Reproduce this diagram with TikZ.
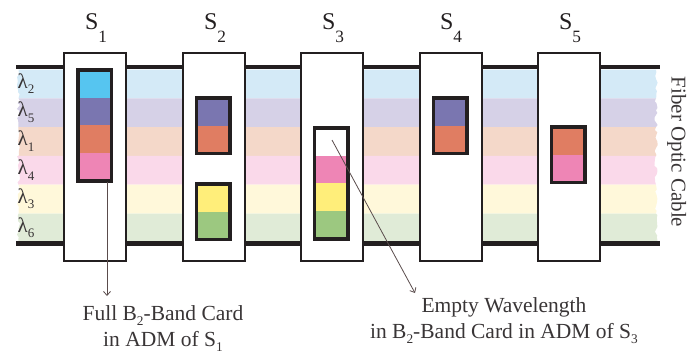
\documentclass[tikz,border=0pt]{standalone}
\usepackage{fontspec}
\usepackage{graphicx}
\setmainfont{Liberation Serif}
\usetikzlibrary{arrows.meta,decorations.pathmorphing}
\definecolor{bandA}{HTML}{D4EAF7}
\definecolor{bandB}{HTML}{D6D1E7}
\definecolor{bandC}{HTML}{F4D8C9}
\definecolor{bandD}{HTML}{FAD9EA}
\definecolor{bandE}{HTML}{FFF8DA}
\definecolor{bandF}{HTML}{E0EBD7}
\definecolor{cCyan}{HTML}{56C5F0}
\definecolor{cPurple}{HTML}{7A76B0}
\definecolor{cOrange}{HTML}{E07D62}
\definecolor{cPink}{HTML}{EE85B5}
\definecolor{cYellow}{HTML}{FFEE7A}
\definecolor{cGreen}{HTML}{9CC880}
\definecolor{ink}{HTML}{231F20}
\definecolor{arrowc}{HTML}{5A4C4C}
\newcommand{\lsub}[1]{\raisebox{-0.6ex}{\scalebox{0.62}{#1}}}
\newcommand{\ssub}[1]{\raisebox{-0.55em}{\scalebox{0.72}{#1}}}
\newcommand{\admcard}[4]{% center x, outer top y, rows, colours
  \foreach \col [count=\i from 0] in {#4} {
    \fill[\col] ({#1-16.75},{#2+1.75+\i*27.75}) rectangle ++(33.5,27.75);
  }
  \draw[cardline] ({#1-16.75},{#2+1.75}) rectangle ++(33.5,{#3*27.75});
}
\tikzset{
  stationbox/.style={draw=ink, fill=white, line width=2pt, minimum width=62pt, minimum height=208pt, inner sep=0pt},
  cardline/.style={draw=ink, line width=3.5pt},
  fiberline/.style={draw=ink, line width=4.5pt},
  slabel/.style={font=\fontsize{24}{26}\selectfont, anchor=base, inner sep=0pt, text=ink},
  lamlabel/.style={font=\fontsize{21}{22}\selectfont, anchor=base, inner sep=0pt, text=ink!90},
  caption/.style={font=\fontsize{21.5}{24}\selectfont, anchor=base, inner sep=0pt, text=ink!90},
  pointer/.style={draw=arrowc, line width=0.8pt, -{Straight Barb[length=4pt,width=7pt]}},
  torn/.style={decoration={random steps, segment length=3pt, amplitude=1.6pt}},
}
\begin{document}
\begin{tikzpicture}[x=1pt,y=-1pt]
\useasboundingbox (0,0) rectangle (688,354);
\pgfmathsetseed{7}
% wavelength bands
\foreach \col [count=\i from 0] in {bandA,bandB,bandC,bandD,bandE,bandF} {
  \pgfmathsetmacro{\yt}{69.5+\i*28.8}
  \pgfmathsetmacro{\yb}{69.5+(\i+1)*28.8}
  \fill[\col] (18.5,\yt) -- (656,\yt) decorate[torn]{-- (656,\yb)} -- (18.5,\yb) decorate[torn]{-- (18.5,\yt)} -- cycle;
}
% fiber edges
\draw[fiberline] (16,67) -- (660,67);
\draw[fiberline] (16,243.5) -- (660,243.5);
% lambda labels
\foreach \l [count=\i from 0] in {2,5,1,4,3,6} {
  \node[lamlabel] (lam\l) at (26,{88+\i*28.8}) {λ\lsub{\l}};
}
% stations
\node[stationbox] (st1) at (95,157) {};
\node[stationbox] (st2) at (214,157) {};
\node[stationbox] (st3) at (332,157) {};
\node[stationbox] (st4) at (450.5,157) {};
\node[stationbox] (st5) at (569,157) {};
\node[slabel] (lab1) at (96,29) {S\ssub{1}};
\node[slabel] (lab2) at (215,29) {S\ssub{2}};
\node[slabel] (lab3) at (333,29) {S\ssub{3}};
\node[slabel] (lab4) at (451,29) {S\ssub{4}};
\node[slabel] (lab5) at (570,29) {S\ssub{5}};
% cards
\admcard{94.5}{68}{4}{cCyan,cPurple,cOrange,cPink}
\admcard{213}{96}{2}{cPurple,cOrange}
\admcard{213}{182}{2}{cYellow,cGreen}
\admcard{331}{126}{4}{white,cPink,cYellow,cGreen}
\admcard{450}{96}{2}{cPurple,cOrange}
\admcard{568}{125}{2}{cOrange,cPink}
% fiber label
\node[font=\fontsize{21}{22}\selectfont, rotate=-90, anchor=base, text=ink!90, inner sep=0pt] (fiber) at (671.5,152) {Fiber Optic Cable};
% captions
\node[caption] (capA1) at (163,320) {Full B\lsub{2}-Band Card};
\node[caption] (capA2) at (163,346) {in ADM of S\lsub{1}};
\node[caption] (capB1) at (504,312) {Empty Wavelength};
\node[caption] (capB2) at (504,338) {in B\lsub{2}-Band Card in ADM of S\lsub{3}};
% pointers
\coordinate (pA0) at (107,182);
\coordinate (pA1) at (107,296);
\coordinate (pB0) at (332,140);
\coordinate (pB1) at (415,293);
\draw[pointer] (pA0) -- (pA1);
\draw[pointer] (pB0) -- (pB1);
\end{tikzpicture}
\end{document}
